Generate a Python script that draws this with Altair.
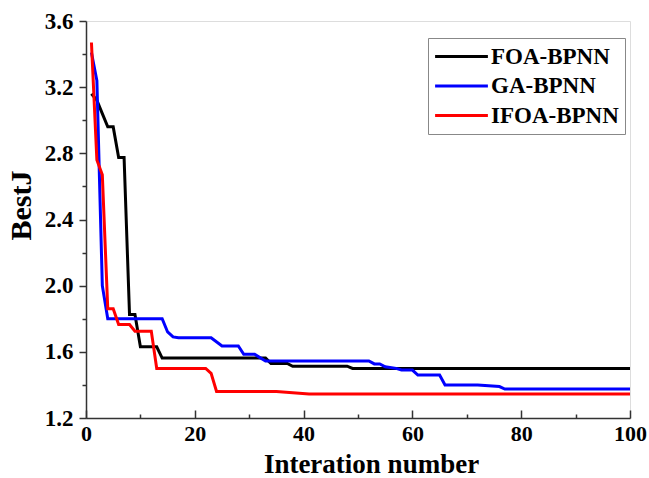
import altair as alt
import pandas as pd

# FOA-BPNN (black)
foa_iter = [1, 2, 3, 4, 5, 6, 7, 8, 9, 10, 13, 14, 33, 34, 37, 38, 48, 49, 100]
foa_val = [3.16, 3.12, 3.04, 2.96, 2.96, 2.775, 2.775, 1.825, 1.825, 1.63, 1.63,
           1.562, 1.562, 1.53, 1.53, 1.513, 1.513, 1.50, 1.50]

# GA-BPNN (blue)
ga_iter = [1, 2, 3, 4, 14, 15, 16, 17, 23, 25, 28, 29, 31, 33, 52, 53, 54, 55, 57,
           58, 60, 61, 65, 66, 72, 76, 77, 100]
ga_val = [3.41, 3.24, 2.0, 1.80, 1.80, 1.72, 1.69, 1.685, 1.685, 1.635, 1.635,
          1.585, 1.585, 1.545, 1.545, 1.527, 1.527, 1.51, 1.50, 1.49, 1.49, 1.46,
          1.46, 1.40, 1.40, 1.39, 1.375, 1.375]

# IFOA-BPNN (red)
ifoa_iter = [1, 2, 3, 4, 5, 6, 8, 9, 12, 13, 22, 23, 24, 35, 41, 100]
ifoa_val = [3.47, 2.76, 2.67, 1.86, 1.86, 1.765, 1.765, 1.725, 1.725, 1.50, 1.50,
            1.47, 1.36, 1.36, 1.345, 1.345]

series_names = ["FOA-BPNN", "GA-BPNN", "IFOA-BPNN"]
series_colors = ["#000000", "#0000ff", "#ff0000"]

x_ticks = [0, 10, 20, 30, 40, 50, 60, 70, 80, 90, 100]
y_ticks = [1.2, 1.4, 1.6, 1.8, 2.0, 2.2, 2.4, 2.6, 2.8, 3.0, 3.2, 3.4, 3.6]

rows = []
for name, its, vals in zip(series_names, [foa_iter, ga_iter, ifoa_iter],
                           [foa_val, ga_val, ifoa_val]):
    for i, v in zip(its, vals):
        rows.append({"Series": name, "Iteration": i, "BestJ": v})
df = pd.DataFrame(rows)

FONT = "Liberation Serif"

x_axis = alt.Axis(
    values=x_ticks,
    labelExpr="datum.value % 20 == 0 ? datum.label : ''",
    tickSize={"expr": "datum.value % 20 == 0 ? -8 : -4"},
    grid=False,
    domainColor="#333333", domainWidth=1.5,
    tickColor="#333333", tickWidth=1.5,
    labelFont=FONT, labelFontSize=22, labelFontWeight="bold", labelColor="black",
    labelPadding=13, labelFlush=False, labelOverlap=False,
    title="Interation number",
    titleFont=FONT, titleFontSize=27, titleFontWeight="bold", titleColor="black",
    titleX=285, titleY=54, titleAlign="center", titleBaseline="alphabetic",
)

y_axis = alt.Axis(
    values=y_ticks,
    labelExpr="round(datum.value*10) % 4 == 0 ? format(datum.value, '.1f') : ''",
    tickSize={"condition": {"test": "round(datum.value*10) % 4 == 0", "value": 7},
              "value": 4},
    grid=False,
    domainColor="#333333", domainWidth=1.5,
    tickColor="#333333", tickWidth=1.5,
    labelFont=FONT, labelFontSize=23, labelFontWeight="bold", labelColor="black",
    labelPadding=6, labelFlush=False, labelOverlap=False,
    title="BestJ",
    titleFont=FONT, titleFontSize=30, titleFontWeight="bold", titleColor="black",
    titleX=-56, titleY=184, titleAngle=270, titleAlign="center",
    titleBaseline="alphabetic",
)

legend = alt.Legend(
    orient="none", legendX=342, legendY=17, title=None,
    symbolType="M-2.4,0H2.4", symbolSize=484, symbolStrokeWidth=3,
    symbolOffset=15,
    labelExpr="datum.label + '  '",
    labelFont=FONT, labelFontSize=23, labelFontWeight="bold", labelColor="black",
    labelOffset=17, rowPadding=4.5, padding=6,
    strokeColor="#888888", fillColor="white",
)

chart = alt.Chart(df).mark_line(strokeWidth=3, clip=True).encode(
    x=alt.X("Iteration:Q", scale=alt.Scale(domain=[0, 100], nice=False), axis=x_axis),
    y=alt.Y("BestJ:Q", scale=alt.Scale(domain=[1.2, 3.6], nice=False, zero=False), axis=y_axis),
    color=alt.Color("Series:N", scale=alt.Scale(domain=series_names, range=series_colors),
                    legend=legend),
    order=alt.Order("Iteration:Q"),
).properties(
    width=544, height=397,
    autosize=alt.AutoSizeParams(type="none"),
    padding={"left": 86, "top": 21, "right": 19, "bottom": 60},
).configure_view(stroke=None).configure(background="white")

chart.save("out.html", embed_options={"renderer": "svg", "actions": False})
